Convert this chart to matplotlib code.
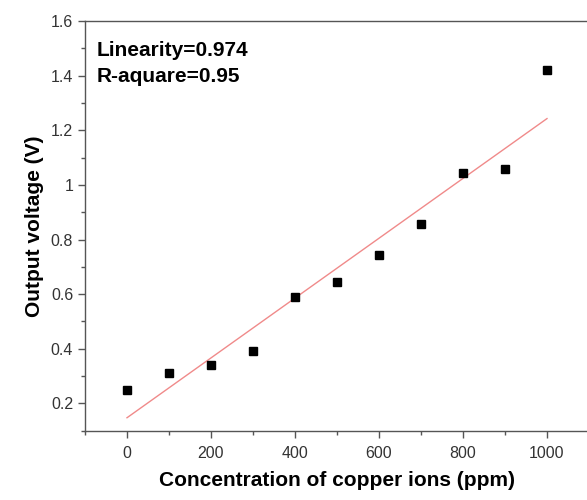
import numpy as np
import matplotlib.pyplot as plt
from matplotlib.ticker import MultipleLocator, FormatStrFormatter

plt.rcParams['font.family'] = ['Liberation Sans', 'DejaVu Sans']

# data
conc = [0, 100, 200, 300, 400, 500, 600, 700, 800, 900, 1000]
voltage = [0.249, 0.312, 0.339, 0.392, 0.588, 0.643, 0.742, 0.856, 1.045, 1.058, 1.422]
notes = ['Linearity=0.974', 'R-aquare=0.95']

# linear fit
slope, intercept = np.polyfit(conc, voltage, 1)
fit_x = np.array([conc[0], conc[-1]])
fit_y = slope * fit_x + intercept

fig = plt.figure(figsize=(5.87, 5.0), dpi=100)
ax = fig.add_axes([0.1448, 0.1386, 0.8586, 0.8194])

ax.plot(fit_x, fit_y, color='#f08a8a', lw=1.0, zorder=2)
ax.plot(conc, voltage, 's', color='black', markersize=6.3, zorder=3)

ax.set_xlim(-100, 1100)
ax.set_ylim(0.1, 1.6)
ax.xaxis.set_major_locator(MultipleLocator(200))
ax.xaxis.set_minor_locator(MultipleLocator(100))
ax.yaxis.set_major_locator(MultipleLocator(0.2))
ax.yaxis.set_minor_locator(MultipleLocator(0.1))
ax.yaxis.set_major_formatter(FormatStrFormatter('%g'))

for s in ax.spines.values():
    s.set_color('#555555')
    s.set_linewidth(1.0)
ax.spines['right'].set_visible(False)

ax.tick_params(which='major', direction='out', length=5, width=1, color='#555555',
               labelsize=11.5, labelcolor='#333333')
ax.tick_params(which='minor', direction='out', length=3, width=1, color='#555555')
ax.tick_params(axis='x', pad=6)

ax.set_xlabel('Concentration of copper ions (ppm)', fontsize=15, fontweight='bold', labelpad=7)
ax.set_ylabel('Output voltage (V)', fontsize=15, fontweight='bold', labelpad=5)

ax.text(0.024, 0.915, notes[0], transform=ax.transAxes, fontsize=15, fontweight='bold')
ax.text(0.024, 0.852, notes[1], transform=ax.transAxes, fontsize=15, fontweight='bold')

fig.savefig('out.png', dpi=100)
